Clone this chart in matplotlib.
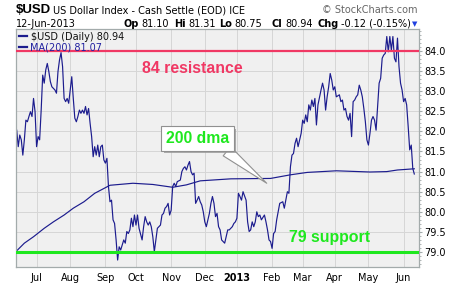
import numpy as np
import pandas as pd
import matplotlib
matplotlib.use('Agg')
import matplotlib.pyplot as plt
import matplotlib.patheffects as pe
from matplotlib.lines import Line2D
from matplotlib.ticker import MultipleLocator

# trading sessions 13-Jun-2012 .. 12-Jun-2013, x axis = session number
sessions = pd.bdate_range('2012-06-13', '2013-06-12')

# $USD daily close (session number, value)
price_day = [0, 1, 2, 3, 4, 5, 6, 7, 8, 9, 10, 11, 12, 13, 14, 15, 16, 17, 18, 19,
             20, 21, 22, 23, 24, 25, 26, 27, 28, 29, 30, 31, 32, 33, 34, 35, 36, 37, 38, 39,
             40, 41, 42, 43, 44, 45, 46, 47, 48, 49, 50, 51, 52, 53, 54, 55, 56, 57, 58, 59,
             60, 61, 62, 63, 64, 65, 66, 67, 68, 70, 71, 72, 73, 74, 75, 76, 77, 78, 79, 80,
             82, 83, 84, 85, 86, 87, 88, 89, 90, 91, 92, 94, 95, 96, 97, 98, 99, 100, 101, 102,
             103, 104, 105, 107, 108, 109, 110, 111, 112, 113, 114, 115, 116, 117, 118, 119, 120, 121, 122, 123,
             124, 126, 127, 128, 129, 130, 131, 132, 133, 134, 135, 136, 138, 139, 140, 141, 142, 143, 144, 145,
             146, 147, 148, 150, 151, 152, 153, 154, 155, 156, 157, 158, 159, 160, 162, 163, 164, 165, 166, 167,
             168, 169, 170, 171, 172, 174, 175, 176, 177, 178, 179, 180, 181, 182, 183, 184, 186, 187, 188, 189,
             190, 191, 192, 193, 194, 195, 196, 197, 199, 200, 201, 202, 203, 204, 205, 206, 207, 208, 209, 211,
             212, 213, 214, 215, 216, 217, 218, 219, 220, 221, 222, 223, 224, 225, 226, 227, 228, 229, 230, 231,
             232, 233, 234, 235, 236, 237, 238, 239, 240, 241, 242, 243, 244, 245, 246, 247, 248, 249, 250, 251,
             252, 253, 254, 255, 256, 257, 258, 259, 260]
price_close = [82.03, 81.62, 81.91, 81.79, 81.41, 81.79, 82.28, 82.24, 82.37, 82.49, 82.37, 82.82, 82.49, 81.62, 81.87, 81.79, 82.53, 83.40, 83.20, 83.53,
               83.69, 83.49, 83.24, 83.11, 83.07, 83.03, 82.95, 83.49, 83.78, 83.96, 83.61, 82.82, 82.74, 82.82, 82.70, 83.03, 83.36, 82.82, 82.33, 82.24,
               82.37, 82.53, 82.45, 82.53, 82.45, 82.62, 82.41, 82.57, 82.20, 81.87, 81.37, 81.62, 81.41, 81.66, 81.37, 81.62, 81.66, 81.29, 81.21, 81.33,
               80.63, 80.25, 80.29, 79.80, 79.71, 79.30, 78.80, 79.13, 79.05, 79.30, 79.22, 79.51, 79.46, 79.55, 79.84, 79.63, 79.92, 79.67, 79.92, 79.59,
               79.30, 79.63, 79.88, 79.75, 79.67, 79.75, 79.63, 79.38, 79.01, 79.30, 79.59, 79.67, 79.92, 79.96, 80.09, 80.13, 80.21, 79.92, 80.04, 80.63,
               80.71, 80.63, 80.75, 80.79, 81.00, 81.08, 81.12, 81.04, 81.16, 81.25, 81.00, 80.92, 80.96, 80.21, 80.29, 80.38, 80.25, 80.17, 80.00, 79.75,
               79.63, 79.96, 80.21, 80.38, 80.21, 79.88, 79.96, 79.63, 79.55, 79.30, 79.26, 79.22, 79.55, 79.55, 79.59, 79.63, 79.71, 79.75, 79.84, 80.46,
               80.38, 80.29, 80.50, 80.29, 79.75, 79.51, 79.55, 79.75, 79.63, 79.75, 80.00, 79.88, 79.92, 79.80, 79.92, 79.75, 79.55, 79.30, 79.26, 79.09,
               79.46, 79.51, 79.80, 80.00, 80.21, 80.25, 80.09, 80.29, 80.50, 80.46, 81.12, 81.41, 81.45, 81.70, 81.83, 81.62, 81.95, 82.28, 82.20, 82.41,
               82.24, 82.66, 82.53, 82.78, 82.62, 82.82, 82.16, 82.66, 83.03, 83.20, 83.03, 82.53, 82.86, 83.11, 83.44, 83.28, 83.03, 83.11, 82.86, 82.91,
               82.74, 82.78, 82.53, 82.57, 82.37, 82.28, 82.45, 81.87, 82.74, 82.78, 82.86, 82.91, 83.15, 83.03, 82.86, 82.57, 82.24, 81.79, 81.66, 81.95,
               82.28, 82.37, 82.28, 82.03, 82.62, 83.20, 83.32, 83.82, 83.90, 83.94, 84.36, 83.98, 84.36, 84.02, 84.36, 83.82, 83.73, 84.32, 83.61, 83.20,
               83.03, 82.74, 82.82, 82.66, 82.12, 81.54, 81.66, 81.08, 80.94]

# 200-day moving average
ma_day = [0, 5, 11, 18, 24, 31, 37, 44, 51, 57, 61, 70, 76, 89, 102, 111, 120, 140, 166, 179, 190, 209, 231, 242, 249, 260]
ma_value = [79.03, 79.22, 79.38, 79.59, 79.75, 79.92, 80.09, 80.25, 80.46, 80.58, 80.66, 80.69, 80.71, 80.68, 80.61, 80.67,
            80.77, 80.82, 80.83, 80.92, 80.98, 81.02, 80.99, 81.00, 81.04, 81.07]

resistance = 84.0
support = 79.0
quote_labels = ['Op', 'Hi', 'Lo', 'Cl', 'Chg']
quote_values = ['81.10', '81.31', '80.75', '80.94', '-0.12 (-0.15%)']

navy = '#1c1c8e'
red = '#f03864'
green = '#1ee81e'
edge = '#a3abab'

W, H = 460, 284
def fx(x):
    return x / W
def fy(y):
    return 1 - y / H

fig = plt.figure(figsize=(4.6, 2.84), dpi=100)
ax = fig.add_axes([fx(16), fy(267), 403.5 / W, 238 / H])
ax.set_facecolor('#f0f0f0')

ax.plot(price_day, price_close, color=navy, lw=0.85, zorder=2)
ax.plot(ma_day, ma_value, color=navy, lw=0.85, zorder=2)
ax.axhline(resistance, color=red, lw=1.6, zorder=3)
ax.axhline(support, color=green, lw=2.2, zorder=3)

ax.set_xlim(-0.46, 263.4)
ax.set_ylim(78.627, 84.547)

# month ticks at first session of each month
m = sessions.month.values
first = np.flatnonzero(np.diff(m) != 0) + 1
labels = [str(sessions[i].year) if sessions[i].month == 1 else sessions[i].strftime('%b') for i in first]
ax.set_xticks(first)
ax.set_xticklabels(labels)
for t in ax.get_xticklabels():
    if t.get_text() == '2013':
        t.set_fontweight('bold')

ax.yaxis.tick_right()
ax.set_yticks(np.arange(79, 84.01, 0.5))
ax.set_yticklabels(['%.1f' % v for v in np.arange(79, 84.01, 0.5)])
ax.yaxis.set_minor_locator(MultipleLocator(0.1))
ax.tick_params(axis='y', which='major', length=2, width=0.8, pad=1.5, labelsize=7, color=edge)
ax.tick_params(axis='y', which='minor', length=1.2, width=0.6, color=edge)
ax.tick_params(axis='x', length=0, pad=4, labelsize=7)
ax.grid(True, which='major', color='#d6d6d6', lw=0.7, zorder=0)
ax.set_axisbelow(True)
for s in ax.spines.values():
    s.set_color(edge)
    s.set_linewidth(0.9)

ax.text(81.8, 83.46, '84 resistance', color=red, fontsize=11.4, fontweight='bold',
        family='Liberation Sans', va='baseline', ha='left', zorder=4)
ax.text(178.3, 79.26, '79 support', color=green, fontsize=11.4, fontweight='bold',
        family='Liberation Sans', va='baseline', ha='left', zorder=4)

ann = ax.annotate('200 dma', xy=(163.5, 80.71), xytext=(118.4, 81.82), textcoords='data',
                  color=green, fontsize=11.3, fontweight='bold', family='Liberation Sans',
                  ha='center', va='center', zorder=5,
                  bbox=dict(boxstyle='square,pad=0.3', fc='white', ec='#909090', lw=0.8),
                  arrowprops=dict(arrowstyle='wedge,tail_width=0.75', fc='white', ec='#909090',
                                  lw=0.8, relpos=(0.86, 0.0), shrinkA=0, shrinkB=0))
ann.get_bbox_patch().set_path_effects([pe.SimplePatchShadow(offset=(1.5, -1.5), shadow_rgbFace='#9a9a9a', alpha=0.8),
                                       pe.Normal()])

# legend
fig.add_artist(Line2D([fx(19.3), fx(26.7)], [fy(36), fy(36)], color=navy, lw=1.6))
fig.add_artist(Line2D([fx(19.3), fx(26.7)], [fy(46.5), fy(46.5)], color=navy, lw=1.6))
fig.text(fx(31.5), fy(39.8), '$USD (Daily) 80.94', fontsize=7, va='baseline', ha='left', color='#111111')
fig.text(fx(29.5), fy(50.5), 'MA(200) 81.07', fontsize=7, va='baseline', ha='left', color='#2020a0')

# header
fig.text(fx(16), fy(13.3), '$USD', fontsize=9.5, fontweight='bold', family='Liberation Sans', va='baseline')
fig.text(fx(53.3), fy(13.3), 'US Dollar Index - Cash Settle (EOD) ICE', fontsize=7, va='baseline')
fig.text(fx(418), fy(13.3), '\u00a9 StockCharts.com', fontsize=7, va='baseline', ha='right', color='#666666')
fig.text(fx(16), fy(26.7), '12-Jun-2013', fontsize=7, va='baseline')

# quote line: bold label then value, laid out left to right
renderer = fig.canvas.get_renderer()
label_x = [123.3, 174, 219, 271.7, 317.3]
for lab, val, lx in zip(quote_labels, quote_values, label_x):
    t = fig.text(fx(lx), fy(26.7), lab, fontsize=7, fontweight='bold', va='baseline')
    x_end = t.get_window_extent(renderer).x1
    fig.text(fx(x_end + 2.5), fy(26.7), val, fontsize=7, va='baseline')
fig.text(fx(415), fy(24), '\u25bc', fontsize=5, color='#2040e0', ha='center', va='center')

fig.savefig('out.png', dpi=100)
